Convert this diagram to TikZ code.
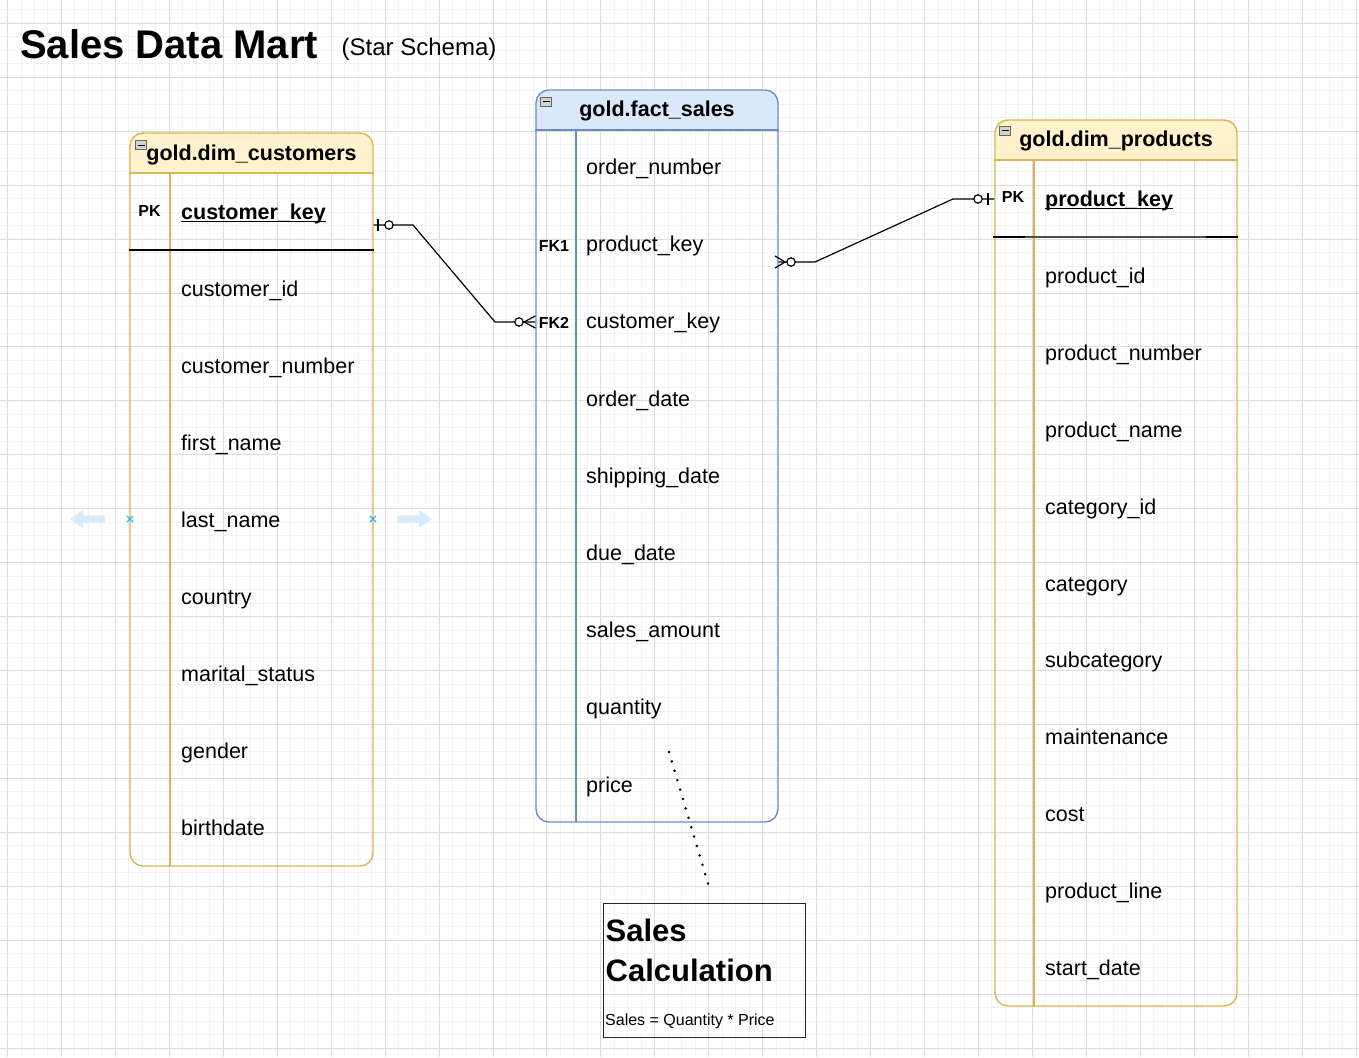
\documentclass[tikz,border=0pt]{standalone}
\usepackage{fontspec}
\setmainfont{Liberation Sans}
\definecolor{ystroke}{RGB}{214,182,86}
\definecolor{yfill}{RGB}{255,242,204}
\definecolor{bstroke}{RGB}{108,142,191}
\definecolor{bfill}{RGB}{218,232,252}
\definecolor{gminorc}{RGB}{242,242,242}
\definecolor{gmajorc}{RGB}{220,220,220}
\definecolor{selblue}{RGB}{214,236,250}
\definecolor{xblue}{RGB}{41,182,242}
\begin{document}
\begin{tikzpicture}[x=1pt,y=-1pt,
  gminor/.style={gminorc,line width=1pt},
  gmajor/.style={gmajorc,line width=1pt},
  rowtxt/.style={anchor=base west,inner sep=0pt,font=\fontsize{21.5}{26}\selectfont},
  keytxt/.style={anchor=base west,inner sep=0pt,font=\bfseries\fontsize{21.5}{26}\selectfont},
  hdrtxt/.style={anchor=base,inner sep=0pt,font=\bfseries\fontsize{21.5}{26}\selectfont},
  keylbl/.style={anchor=base,inner sep=0pt,font=\bfseries\fontsize{16}{19}\selectfont},
  ytable/.style={draw=ystroke,line width=1.4pt,rounded corners=13pt,minimum width=243pt,inner sep=0pt},
  btable/.style={draw=bstroke,line width=1.4pt,rounded corners=13pt,minimum width=243pt,inner sep=0pt},
  conn/.style={line width=1.2pt,black},
  marker/.style={line width=1.2pt,black},
  ocircle/.style={line width=1.2pt,draw=black,fill=white},
  icon/.style={draw=gray!80!black,fill=gray!35,line width=0.6pt,minimum width=11pt,minimum height=9pt,inner sep=0pt},
  selarrow/.style={fill=selblue,draw=none},
  xmark/.style={xblue,line width=1.1pt}
]
\useasboundingbox (0,0) rectangle (1359,1057);
\fill[white] (0,0) rectangle (1359,1057);
% grid
\foreach \i in {-1,...,100} \draw[gminor] ({7.54+13.485*\i},0) -- ({7.54+13.485*\i},1057);
\foreach \i in {-2,...,77} \draw[gminor] (0,{23.3+13.485*\i}) -- (1359,{23.3+13.485*\i});
\foreach \i in {-1,...,25} \draw[gmajor] ({7.54+53.94*\i},0) -- ({7.54+53.94*\i},1057);
\foreach \i in {-1,...,19} \draw[gmajor] (0,{23.3+53.94*\i}) -- (1359,{23.3+53.94*\i});

% title
\node[anchor=base west,inner sep=0pt,font=\bfseries\fontsize{40}{48}\selectfont] (title) at (20,58.5) {Sales Data Mart};
\node[anchor=base west,inner sep=0pt,font=\fontsize{24}{29}\selectfont] (subtitle) at (341.5,55.5) {(Star Schema)};

% ---------- customers ----------
\begin{scope}
\clip[rounded corners=13pt] (130,133) rectangle (373,866);
\fill[yfill] (130,133) rectangle (373,173);
\end{scope}
\node[ytable,minimum height=733pt] (cust) at (251.5,499.5) {};
\draw[ystroke,line width=1.4pt] (cust.west |- 0,173) -- (cust.east |- 0,173);
\draw[ystroke,line width=1.4pt] (170,173) -- (170,866);
\draw[black,line width=2pt] (cust.west |- 0,250) -- (cust.east |- 0,250);
\node[icon] (custicon) at (141,145) {};
\draw[black,line width=0.9pt] (137.5,145) -- (144.5,145);
\node[hdrtxt] (custhdr) at (251.5,160) {gold.dim\_customers};
\node[keylbl] (custpk) at (149.5,216.7) {PK};
\node[keytxt] (ck) at (181,219.5) {customer\_key};
\draw[line width=1.5pt] ([yshift=-2pt]ck.base west) -- ([yshift=-2pt]ck.base east);
\foreach \t [count=\k] in {customer\_id,customer\_number,first\_name,last\_name,country,marital\_status,gender,birthdate}
  \node[rowtxt] (cr\k) at (181,{219.5+77*\k}) {\t};

% ---------- fact ----------
\begin{scope}
\clip[rounded corners=13pt] (536,90) rectangle (778,822);
\fill[bfill] (536,90) rectangle (778,130);
\end{scope}
\node[btable,minimum width=242pt,minimum height=732pt] (fact) at (657,456) {};
\draw[bstroke,line width=1.4pt] (fact.west |- 0,130) -- (fact.east |- 0,130);
\draw[bstroke,line width=1.4pt] (576,130) -- (576,822);
\node[icon] (facticon) at (546,101.5) {};
\draw[black,line width=0.9pt] (542.5,101.5) -- (549.5,101.5);
\node[hdrtxt] (facthdr) at (657,116.7) {gold.fact\_sales};
\node[keylbl] (fk1) at (554,251) {FK1};
\node[keylbl] (fk2) at (554,328) {FK2};
\foreach \t [count=\k from 0] in {order\_number,product\_key,customer\_key,order\_date,shipping\_date,due\_date,sales\_amount,quantity,price}
  \node[rowtxt] (fr\k) at (586,{174.5+77.2*\k}) {\t};

% ---------- products ----------
\begin{scope}
\clip[rounded corners=13pt] (995,120) rectangle (1237,1006);
\fill[yfill] (995,120) rectangle (1237,160);
\end{scope}
\node[ytable,minimum width=242pt,minimum height=886pt] (prod) at (1116,563) {};
\draw[ystroke,line width=1.4pt] (prod.west |- 0,160) -- (prod.east |- 0,160);
\draw[ystroke,line width=1.4pt] (1034,160) -- (1034,1006);
\draw[black,line width=2pt] (993,237) -- (1025,237);
\draw[black!70,line width=2pt] (1025,237) -- (1206,237);
\draw[black,line width=2pt] (1206,237) -- (1238,237);
\node[icon] (prodicon) at (1005,130.5) {};
\draw[black,line width=0.9pt] (1001.5,130.5) -- (1008.5,130.5);
\node[hdrtxt] (prodhdr) at (1116,146) {gold.dim\_products};
\node[keylbl] (prodpk) at (1013,202.7) {PK};
\node[keytxt] (pk) at (1045,206.5) {product\_key};
\draw[line width=1.5pt] ([yshift=-2pt]pk.base west) -- ([yshift=-2pt]pk.base east);
\foreach \t [count=\k] in {product\_id,product\_number,product\_name,category\_id,category,subcategory,maintenance,cost,product\_line,start\_date}
  \node[rowtxt] (pr\k) at (1045,{206.5+76.9*\k}) {\t};

% ---------- connectors ----------
% customers (one, optional) -> fact (many, optional)
\coordinate (c1a) at (cust.east |- 0,225);
\coordinate (c1b) at (fact.west |- 0,322);
\draw[conn] (c1a) -- (413,225) -- (495,322) -- (c1b);
\draw[marker] (378,219) -- (378,231);
\draw[ocircle] (389,225) circle (4.2pt);
\draw[marker] (c1b |- 0,316) -- (524,322) -- (c1b |- 0,328);
\draw[ocircle] (519,322) circle (4.2pt);

% fact (many, optional) -> products (one, optional)
\coordinate (c2a) at (fact.east |- 0,262);
\coordinate (c2b) at (prod.west |- 0,199);
\draw[conn] (c2a) -- (815,262) -- (953,199) -- (c2b);
\draw[marker] (775,256) -- (785,262) -- (775,268);
\draw[ocircle] (791,262) circle (4.2pt);
\draw[marker] (988,193) -- (988,205);
\draw[ocircle] (978,199) circle (4.2pt);

% ---------- note ----------
\node[draw=black!85,line width=1.4pt,anchor=north west,inner sep=0pt,minimum width=202pt,minimum height=134pt] (note) at (603,903) {};
\node[anchor=base west,inner sep=0pt,font=\bfseries\fontsize{31}{38}\selectfont] (note1) at (605.5,941.7) {Sales};
\node[anchor=base west,inner sep=0pt,font=\bfseries\fontsize{31}{38}\selectfont] (note2) at (605.5,981) {Calculation};
\node[anchor=base west,inner sep=0pt,font=\fontsize{16}{19}\selectfont] (note3) at (605,1025) {Sales = Quantity * Price};
\coordinate (dA) at (669,752);
\coordinate (dB) at (709,887);
\draw[line width=2.8pt,line cap=round,dash pattern=on 0pt off 9.8pt] (dA) -- (dB);

% ---------- selection markers ----------
\fill[selarrow] (70,519) -- (83,510) -- (83,515.5) -- (105,515.5) -- (105,522.5) -- (83,522.5) -- (83,528) -- cycle;
\fill[selarrow] (432,519) -- (419,510) -- (419,515.5) -- (397,515.5) -- (397,522.5) -- (419,522.5) -- (419,528) -- cycle;
\draw[xmark] (127,516) -- (133,522) (127,522) -- (133,516);
\draw[xmark] (370,516) -- (376,522) (370,522) -- (376,516);
\end{tikzpicture}
\end{document}
